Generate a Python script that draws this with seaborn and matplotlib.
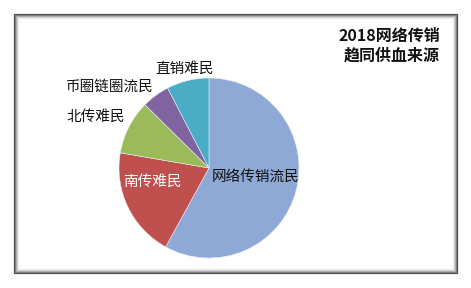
import matplotlib
matplotlib.use("Agg")
import matplotlib.pyplot as plt
import seaborn as sns
from matplotlib.patches import Rectangle

sns.set_theme(style="white")
plt.rcParams['font.family'] = ['Noto Sans CJK SC', 'DejaVu Sans']

categories = ["网络传销流民", "南传难民", "北传难民", "币圈链圈流民", "直销难民"]
values = [58, 19.7, 9.7, 5.0, 7.6]
colors = ["#8EA9D5", "#C0504D", "#9BBB59", "#8064A2", "#4BACC6"]
title_lines = ["2018网络传销", "趋同供血来源"]

W, H = 471, 288
fig = plt.figure(figsize=(W / 100, H / 100), dpi=100)
fig.patch.set_facecolor("white")

# frame with soft gray border
x0, y0, x1, y1 = 14, 14, 457, 273
shades = ["#4a4a4a", "#7a7a7a", "#a8a8a8", "#d0d0d0", "#ececec"]
for i, c in enumerate(shades):
    fig.patches.append(Rectangle(((x0 + i) / W, 1 - (y1 - i) / H),
                                 (x1 - x0 - 2 * i) / W, (y1 - y0 - 2 * i) / H,
                                 transform=fig.transFigure, fill=False,
                                 edgecolor=c, linewidth=0.9))

# pie axes: center (209,168) px, 1 data unit = 100 px
cx, cy = 209, 168
ax = fig.add_axes([(cx - 100) / W, (H - cy - 100) / H, 200 / W, 200 / H])
ax.pie(values, colors=colors, startangle=90, counterclock=False, radius=0.9,
       wedgeprops=dict(linewidth=0.4, edgecolor="#e8eef6"))
ax.set_xlim(-1, 1)
ax.set_ylim(-1, 1)
ax.set_aspect("equal")
ax.axis("off")

label_pos = [(0.03, -0.085, "left", "#111111"),
             (-0.57, -0.14, "center", "white"),
             (-1.13, 0.51, "center", "#111111"),
             (-0.99, 0.81, "center", "#111111"),
             (-0.24, 0.99, "center", "#111111")]
for cat, (lx, ly, ha, col) in zip(categories, label_pos):
    ax.text(lx, ly, cat, ha=ha, va="center", fontsize=10.5, color=col, clip_on=False)

fig.text(440 / W, 1 - 36 / H, title_lines[0], ha="right", va="center",
         fontsize=11.5, fontweight="heavy", color="#111111")
fig.text(440 / W, 1 - 56 / H, title_lines[1], ha="right", va="center",
         fontsize=11.5, fontweight="heavy", color="#111111")

fig.savefig("out.png", dpi=100, facecolor="white")
